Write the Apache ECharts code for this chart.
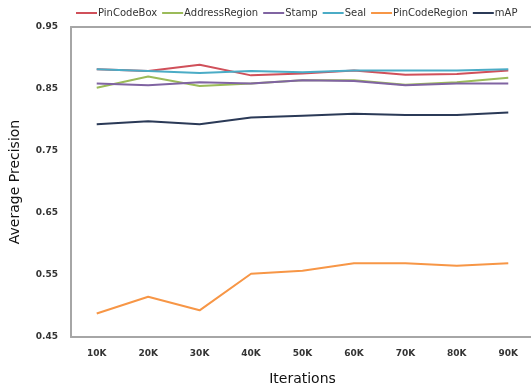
<!DOCTYPE html>
<html><head><meta charset="utf-8">
<script src="https://cdn.jsdelivr.net/npm/echarts@6/dist/echarts.min.js"></script>
<style>html,body{margin:0;padding:0;background:#fff}#c{width:531px;height:391px}</style>
</head><body><div id="c"></div>
<script>
var categories = ['10K','20K','30K','40K','50K','60K','70K','80K','90K'];
var pinCodeBox    = [0.882,0.879,0.889,0.872,0.875,0.880,0.873,0.874,0.880];
var addressRegion = [0.852,0.870,0.855,0.859,0.864,0.864,0.857,0.861,0.868];
var stamp         = [0.859,0.856,0.861,0.859,0.864,0.863,0.856,0.859,0.859];
var seal          = [0.882,0.879,0.876,0.879,0.877,0.880,0.880,0.880,0.882];
var pinCodeRegion = [0.488,0.515,0.493,0.552,0.557,0.569,0.569,0.565,0.569];
var mAP           = [0.793,0.798,0.793,0.804,0.807,0.810,0.808,0.808,0.812];
var seriesNames = ['PinCodeBox','AddressRegion','Stamp','Seal','PinCodeRegion','mAP'];
var seriesData = [pinCodeBox, addressRegion, stamp, seal, pinCodeRegion, mAP];
var colors = ['#d0505a','#9bbb59','#8064a2','#4bacc6','#f79646','#2b3a57'];

var chart = echarts.init(document.getElementById('c'));
var axisLineStyle = {show: true, lineStyle: {color: '#a6a6a6', width: 2}};
chart.setOption({
  animation: false,
  color: colors,
  textStyle: {fontFamily: 'DejaVu Sans'},
  legend: {
    top: 3, left: 71, width: 470,
    itemWidth: 21, itemHeight: 2, itemGap: 5,
    icon: 'rect',
    textStyle: {fontSize: 10, color: '#333', padding: [0,0,0,-4]},
    data: seriesNames
  },
  grid: {left: 71, top: 27, bottom: 54, width: 463, outerBoundsMode: 'none'},
  xAxis: [{
    type: 'category', data: categories, boundaryGap: true,
    name: 'Iterations', nameLocation: 'middle', nameGap: 35,
    nameTextStyle: {fontSize: 14, color: '#111'},
    axisLine: axisLineStyle, axisTick: {show: false},
    axisLabel: {fontSize: 9, fontWeight: 'bold', color: '#333', margin: 12}
  }, {
    type: 'category', data: categories, position: 'top', boundaryGap: true,
    axisLine: axisLineStyle, axisTick: {show: false}, axisLabel: {show: false}
  }],
  yAxis: {
    type: 'value', min: 0.45, max: 0.95, interval: 0.1,
    name: 'Average Precision', nameLocation: 'middle', nameGap: 49,
    nameTextStyle: {fontSize: 14, color: '#111'},
    axisLine: axisLineStyle, axisTick: {show: false}, splitLine: {show: false},
    axisLabel: {fontSize: 9, fontWeight: 'bold', color: '#333', margin: 13,
      formatter: function(v){return v.toFixed(2);}}
  },
  series: seriesNames.map(function(n, i){
    return {name: n, type: 'line', data: seriesData[i], symbol: 'none',
      lineStyle: {width: 2}};
  })
});
</script></body></html>
